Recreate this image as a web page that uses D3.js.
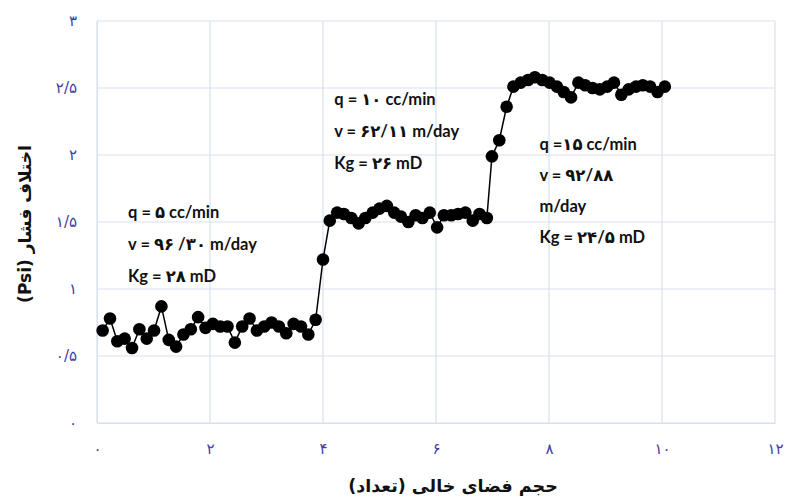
<!DOCTYPE html>
<html><head><meta charset="utf-8">
<script src="https://cdn.jsdelivr.net/npm/d3@7/dist/d3.min.js"></script>
<style>
html,body{margin:0;padding:0;background:#fff;}
svg{display:block;}
</style></head>
<body>
<svg id="c" width="787" height="503"></svg>
<script>
const xValues = [0.10,0.23,0.36,0.49,0.62,0.75,0.88,1.01,1.14,1.27,1.40,1.53,1.66,1.79,1.92,2.05,2.18,2.31,2.44,2.57,2.70,2.83,2.96,3.09,3.22,3.35,3.48,3.61,3.74,3.87,4.00,
  4.12,4.25,4.37,4.50,4.63,4.75,4.88,5.00,5.13,5.26,5.38,5.51,5.64,5.76,5.89,6.02,6.14,6.27,6.39,6.52,6.65,6.77,6.90,
  6.99,7.12,7.25,7.37,7.50,7.63,7.75,7.88,8.01,8.14,8.26,8.39,8.52,8.64,8.77,8.90,9.03,9.15,9.28,9.41,9.54,9.66,9.79,9.92,10.05];
const pressure = [0.69,0.78,0.61,0.63,0.56,0.70,0.63,0.69,0.87,0.62,0.57,0.66,0.70,0.79,0.71,0.74,0.72,0.72,0.60,0.72,0.78,0.69,0.72,0.75,0.72,0.67,0.74,0.72,0.66,0.77,1.22,
  1.51,1.57,1.56,1.53,1.49,1.53,1.57,1.60,1.62,1.57,1.54,1.50,1.55,1.53,1.57,1.46,1.55,1.55,1.56,1.57,1.51,1.56,1.53,
  1.99,2.11,2.36,2.51,2.54,2.56,2.58,2.56,2.54,2.51,2.47,2.43,2.54,2.52,2.50,2.49,2.51,2.54,2.45,2.49,2.51,2.52,2.51,2.47,2.51];
const xTicks = [0,2,4,6,8,10,12];
const xTickLabels = ["۰","۲","۴","۶","۸","۱۰","۱۲"];
const yTicks = [0,0.5,1,1.5,2,2.5,3];
const yTickLabels = ["۰","۰/۵","۱","۱/۵","۲","۲/۵","۳"];
const notes = [
  {x:0.55, y:1.53, lines:["q = ۵ cc/min","v =  ۹۶ /۳۰ m/day","Kg = ۲۸  mD"]},
  {x:4.2, y:2.37, lines:["q =  ۱۰ cc/min","v = ۶۲/۱۱ m/day","Kg = ۲۶ mD"]},
  {x:7.83, y:2.04, lines:["q =۱۵  cc/min","v = ۹۲/۸۸","m/day","Kg = ۲۴/۵  mD"]}
];
const xTitle = "حجم فضای خالی (تعداد)";
const yTitle = "اختلاف فشار (Psi)";

const svg = d3.select("#c");
const L=97, R=775, T=21, B=423;
const x = d3.scaleLinear().domain([0,12]).range([L,R]);
const y = d3.scaleLinear().domain([0,3]).range([B,T]);
const gridColor = "#d9e0ec";
const tickColor = "#3d40a0";

svg.append("g").selectAll("line").data(yTicks).join("line")
  .attr("x1",L).attr("x2",R).attr("y1",d=>y(d)).attr("y2",d=>y(d))
  .attr("stroke",gridColor).attr("stroke-width",1.2);
svg.append("g").selectAll("line").data(xTicks).join("line")
  .attr("x1",d=>x(d)).attr("x2",d=>x(d)).attr("y1",T).attr("y2",B)
  .attr("stroke",gridColor).attr("stroke-width",1.2);

const yAxis = d3.axisLeft(y).tickValues(yTicks).tickFormat((d,i)=>yTickLabels[i]).tickSize(0).tickPadding(20);
const gy = svg.append("g").attr("transform",`translate(${L},0)`).call(yAxis);
gy.select(".domain").attr("stroke",gridColor);
gy.selectAll("text").attr("fill",tickColor).attr("font-family","'DejaVu Sans', sans-serif").attr("font-size",15);

const xAxis = d3.axisBottom(x).tickValues(xTicks).tickFormat((d,i)=>xTickLabels[i]).tickSize(0).tickPadding(20);
const gx = svg.append("g").attr("transform",`translate(0,${B})`).call(xAxis);
gx.select(".domain").attr("stroke",gridColor);
gx.selectAll("text").attr("fill",tickColor).attr("font-family","'DejaVu Sans', sans-serif").attr("font-size",15);

const pts = xValues.map((v,i)=>[v,pressure[i]]);
svg.append("path").datum(pts)
  .attr("d",d3.line().x(d=>x(d[0])).y(d=>y(d[1])))
  .attr("fill","none").attr("stroke","#000").attr("stroke-width",1.5);
svg.append("g").selectAll("circle").data(pts).join("circle")
  .attr("cx",d=>x(d[0])).attr("cy",d=>y(d[1])).attr("r",6.3).attr("fill","#000");

notes.forEach(n=>{
  const t = svg.append("text").attr("font-family","Lato, 'DejaVu Sans', sans-serif")
    .attr("font-weight","bold").attr("font-size",16.5).attr("fill","#111");
  n.lines.forEach((s,i)=>{
    t.append("tspan").attr("x",x(n.x)).attr("y",y(n.y)+i*(n.lines.length===4?31:32)).text(s);
  });
});

svg.append("text").attr("x",453).attr("y",492).attr("text-anchor","middle")
  .attr("direction","rtl").style("unicode-bidi","embed")
  .attr("font-family","'DejaVu Sans', sans-serif").attr("font-weight","bold").attr("font-size",17.5)
  .attr("fill","#111").text(xTitle);
svg.append("text").attr("transform",`translate(31,${(T+B)/2+2}) rotate(-90)`).attr("text-anchor","middle")
  .attr("direction","rtl").style("unicode-bidi","embed")
  .attr("font-family","'DejaVu Sans', sans-serif").attr("font-weight","bold").attr("font-size",17)
  .attr("fill","#111").text(yTitle);
</script>
</body></html>
